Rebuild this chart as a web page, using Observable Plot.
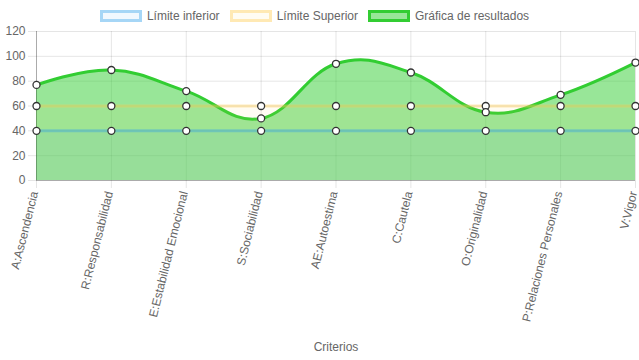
<!DOCTYPE html>
<html>
<head>
<meta charset="utf-8">
<script src="https://cdn.jsdelivr.net/npm/d3@7"></script>
<script src="https://cdn.jsdelivr.net/npm/@observablehq/plot@0.6"></script>
<style>
  body { margin: 0; background: #fff; font-family: "Liberation Sans", Arial, sans-serif; }
  #legend { height: 24px; box-sizing: border-box; padding-top: 8px; padding-right: 10px; display: flex; justify-content: center; font-size: 12px; color: #666; line-height: 12px; }
  .item { display: flex; align-items: center; margin: 0 5px; }
  .box { width: 36px; height: 6px; border: 3px solid; margin-right: 5px; }
</style>
</head>
<body>
<div id="legend"></div>
<div id="chart"></div>
<script>
const categories = ["A:Ascendencia", "R:Responsabilidad", "E:Estabilidad Emocional", "S:Sociabilidad", "AE:Autoestima", "C:Cautela", "O:Originalidad", "P:Relaciones Personales", "V:Vigor"];
const lowerLimit = [40, 40, 40, 40, 40, 40, 40, 40, 40];
const upperLimit = [60, 60, 60, 60, 60, 60, 60, 60, 60];
const results = [77, 89, 72, 50, 94, 87, 55, 69, 95];
const yTicks = [0, 20, 40, 60, 80, 100, 120];
const seriesNames = ["Límite inferior", "Límite Superior", "Gráfica de resultados"];
const seriesStroke = ["rgba(54,162,235,0.4)", "rgba(255,206,86,0.4)", "rgb(50,205,50)"];
const seriesFill = ["rgba(54,162,235,0.07)", "rgba(255,206,86,0.07)", "rgba(50,205,50,0.5)"];

const legend = document.getElementById("legend");
seriesNames.forEach((n, i) => {
  const it = document.createElement("div");
  it.className = "item";
  it.innerHTML = `<span class="box" style="border-color:${seriesStroke[i]};background:${seriesFill[i]}"></span><span>${n}</span>`;
  legend.appendChild(it);
});

const rows = (vals) => categories.map((c, i) => ({cat: c, v: vals[i]}));
const dLow = rows(lowerLimit), dUp = rows(upperLimit), dRes = rows(results);
const curve = {curve: "cardinal", tension: -0.2};

const chart = Plot.plot({
  width: 639,
  height: 336,
  marginTop: 7,
  marginBottom: 180,
  marginLeft: 36,
  marginRight: 4,
  style: {fontFamily: "Liberation Sans, Arial, sans-serif", fontSize: "12px", color: "#666"},
  x: {type: "point", domain: categories, padding: 0, round: false},
  y: {domain: [0, 120]},
  marks: [
    Plot.gridY(yTicks, {stroke: "#000", strokeOpacity: 0.1}),
    Plot.gridX(categories, {stroke: "#000", strokeOpacity: 0.1}),
    Plot.areaY(dRes, {x: "cat", y: "v", fill: seriesFill[2], ...curve}),
    Plot.lineY(dRes, {x: "cat", y: "v", stroke: seriesStroke[2], strokeWidth: 3, ...curve}),
    Plot.areaY(dUp, {x: "cat", y: "v", fill: seriesFill[1]}),
    Plot.lineY(dUp, {x: "cat", y: "v", stroke: seriesStroke[1], strokeWidth: 3}),
    Plot.areaY(dLow, {x: "cat", y: "v", fill: seriesFill[0]}),
    Plot.lineY(dLow, {x: "cat", y: "v", stroke: seriesStroke[0], strokeWidth: 3}),
    Plot.ruleY([0], {stroke: "#000", strokeOpacity: 0.25}),
    Plot.ruleX([categories[0]], {stroke: "#000", strokeOpacity: 0.25}),
    Plot.axisY({ticks: yTicks, tickSize: 8, tickPadding: 3, stroke: "#000", strokeOpacity: 0.1, label: null, color: "#666"}),
    Plot.axisX({tickSize: 8, tickPadding: 3, tickRotate: -76, stroke: "#000", strokeOpacity: 0.1, label: null}),
    Plot.axisX({ticks: [], tickSize: 0, label: "Criterios", labelAnchor: "center", labelArrow: "none", labelOffset: 170, color: "#666"}),
    Plot.dot(dUp, {x: "cat", y: "v", r: 3.5, fill: "#fff", stroke: "#333", strokeWidth: 1.3}),
    Plot.dot(dLow, {x: "cat", y: "v", r: 3.5, fill: "#fff", stroke: "#333", strokeWidth: 1.3}),
    Plot.dot(dRes, {x: "cat", y: "v", r: 3.5, fill: "#fff", stroke: "#333", strokeWidth: 1.3})
  ]
});
// nudge rotated tick labels slightly left, like the reference
chart.querySelectorAll('g[aria-label="x-axis tick label"] text').forEach(t => {
  const tr = t.getAttribute("transform") || "";
  t.setAttribute("transform", tr.replace(/translate\(([-\d.]+),([-\d.]+)\)/, (m, a, b) => `translate(${+a - 2},${b})`));
});
document.getElementById("chart").appendChild(chart);
</script>
</body>
</html>
